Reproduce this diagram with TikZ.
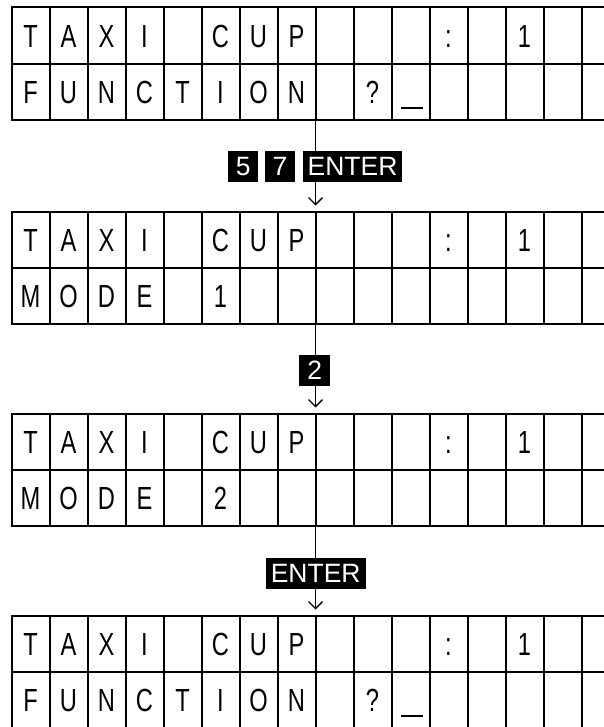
\documentclass[tikz,border=0pt]{standalone}
\usepackage{fontspec}
\setmainfont{Liberation Sans}
\newfontfamily\lcdfont[FakeStretch=0.74]{Liberation Sans}
\usetikzlibrary{arrows.meta}
\begin{document}
\begin{tikzpicture}[x=1bp,y=-1bp,
  grid/.style={line width=2bp},
  panel/.style={draw, grid, anchor=north west, minimum width=608bp, minimum height=112.5bp, inner sep=0pt, outer sep=0pt},
  cell/.style={anchor=base, inner sep=0pt, font=\lcdfont\fontsize{32bp}{36bp}\selectfont},
  keybox/.style={fill=black, text=white, inner sep=0pt, minimum height=30.7bp, font=\fontsize{26.5bp}{30bp}\selectfont},
  digitkey/.style={keybox, minimum width=30.5bp},
  wordkey/.style={keybox, inner xsep=5bp},
  conn/.style={line width=1.3bp, -{Straight Barb[length=7bp,width=14bp]}, shorten >=6bp},
  cursor/.style={line width=2bp}]
\useasboundingbox (0,0) rectangle (604,727);
\clip (0,0) rectangle (604,727);
% panels
\foreach \name/\t in {p1/7.5, p2/211.5, p3/413.5, p4/615.5}{
  \node[panel] (\name) at (11.5,\t) {};
  \foreach \k in {1,...,15}
    \draw[grid] (11.5+38*\k,\t) -- ++(0,112.5);
  \draw[grid] (11.5,\t+56.25) -- ++(608,0);
  \foreach \i/\ch in {0/T,1/A,2/X,3/I,5/C,6/U,7/P,11/:,13/1}
    \node[cell] (\name r1c\i) at (11.5+38*\i+19,\t+39.6) {\ch};
}
% second rows
\foreach \name/\t in {p1/7.5, p4/615.5}{
  \foreach \i/\ch in {0/F,1/U,2/N,3/C,4/T,5/I,6/O,7/N,9/?}
    \node[cell] (\name r2c\i) at (11.5+38*\i+19,\t+95.9) {\ch};
  \draw[cursor] (401,\t+100.5) -- (423,\t+100.5);
}
\foreach \name/\t/\m in {p2/211.5/1, p3/413.5/2}{
  \foreach \i/\ch in {0/M,1/O,2/D,3/E,5/\m}
    \node[cell] (\name r2c\i) at (11.5+38*\i+19,\t+95.9) {\ch};
}
% connectors
\draw[conn] (p1.south) -- (p2.north);
\draw[conn] (p2.south) -- (p3.north);
\draw[conn] (p3.south) -- (p4.north);
% keys
\node[digitkey] (k5) at (243.2,166.3) {5};
\node[digitkey] (k7) at (280,166.3) {7};
\node[wordkey] (kenter1) at (352.5,166.3) {ENTER};
\node[digitkey] (k2) at (314.7,370.3) {2};
\node[wordkey] (kenter2) at (315.7,573.6) {ENTER};
\end{tikzpicture}
\end{document}
